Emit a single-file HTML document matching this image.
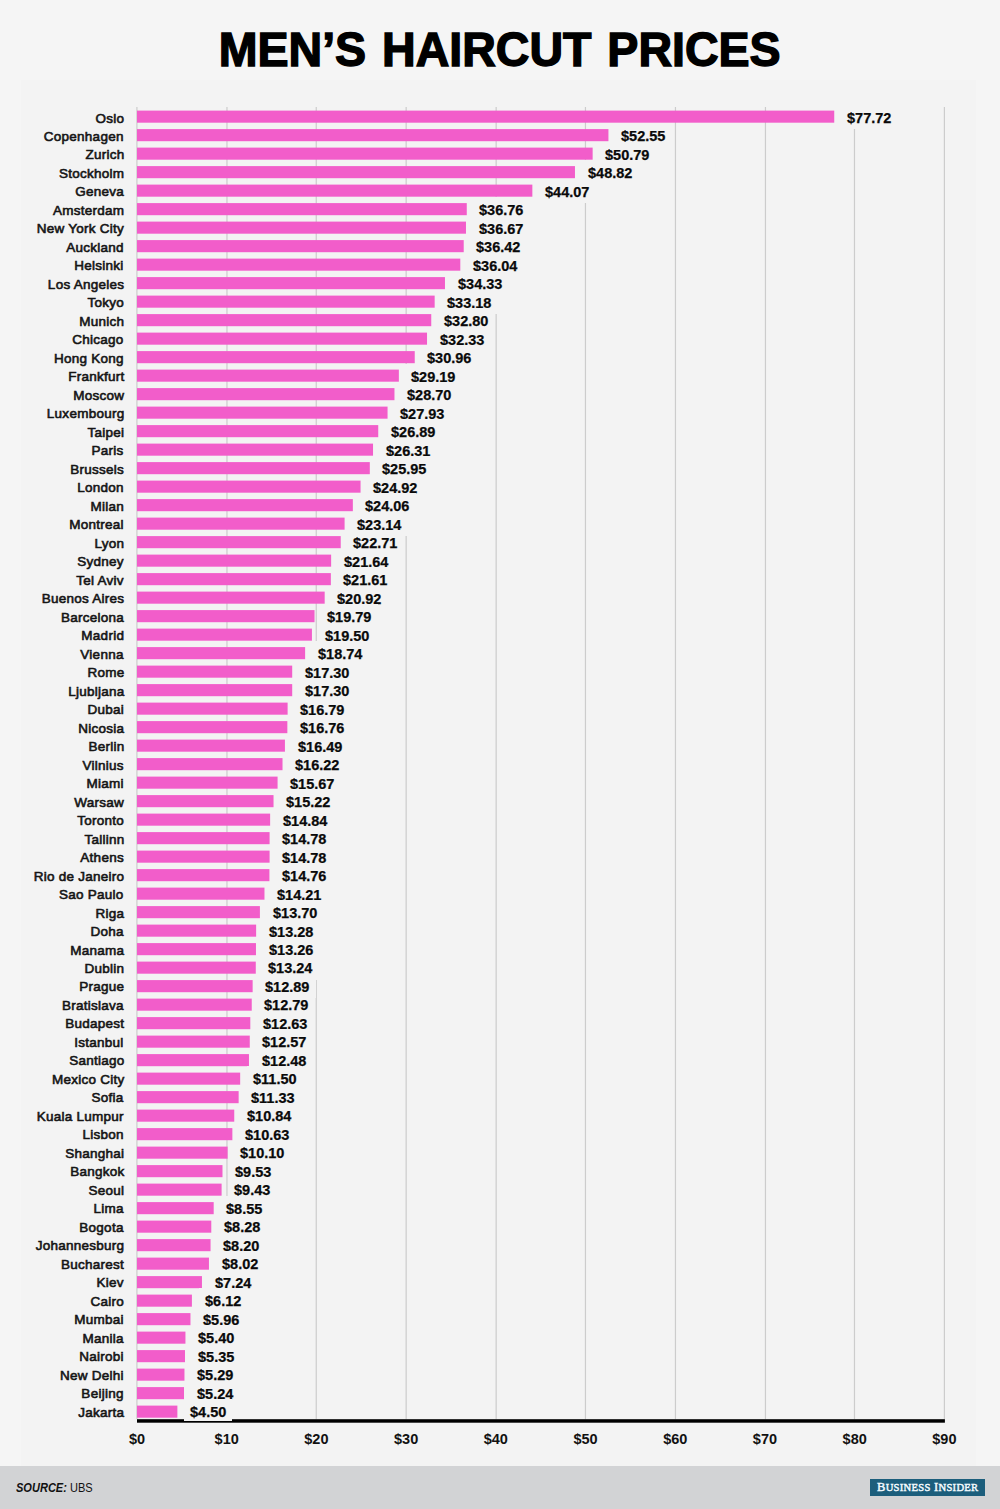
<!DOCTYPE html>
<html><head><meta charset="utf-8"><style>
*{margin:0;padding:0;box-sizing:border-box}
html,body{width:1000px;height:1509px;overflow:hidden;background:#f5f5f5}
body{position:relative;font-family:"Liberation Sans",sans-serif;color:#151515}
.a{position:absolute}
h1{position:absolute;left:0;width:1000px;top:26.3px;text-align:center;font-size:47.5px;font-weight:bold;color:#000;line-height:1;letter-spacing:0px;word-spacing:3px;white-space:nowrap}
h1 span{display:inline-block;transform:scaleX(0.98);transform-origin:center;-webkit-text-stroke:1.4px #000}
.g{position:absolute;top:107px;width:1px;height:1312.2px;background:#cccccc}
.b{position:absolute;left:137.0px;height:12.1px;background:#f25dca}
.c{position:absolute;right:876px;font-size:13.3px;font-weight:normal;-webkit-text-stroke:0.6px #151515;letter-spacing:0.25px;line-height:1;white-space:nowrap;text-align:right}
.c span,.v span{display:inline-block;transform:scaleX(1.015);transform-origin:right center}
.v span{transform-origin:left center;transform:scaleX(0.955)}
.v{position:absolute;font-size:15.2px;font-weight:bold;line-height:1;white-space:nowrap;color:#0a0a0a;-webkit-text-stroke:0.25px #0a0a0a;background:#f3f3f3;padding:5px 6px 4px 6px;overflow:visible}
.t{position:absolute;top:1432px;font-size:14.5px;font-weight:bold;line-height:1;width:60px;text-align:center;color:#111}
.t span{display:inline-block;transform:scaleX(1)}
.ax{position:absolute;left:137.0px;top:1419.2px;width:808.4px;height:3.5px;background:#000}
.ft{position:absolute;left:0;top:1466px;width:1000px;height:43px;background:#d2d3d5}
.src{position:absolute;left:16px;top:1482px;font-size:12px;line-height:1;color:#111;white-space:nowrap;transform:scaleX(0.92);transform-origin:left center}
.logo{position:absolute;left:870px;top:1478.5px;width:115px;height:17px;background:#1c5e7c;color:#f4fbff;font-family:"Liberation Serif",serif;font-weight:normal;-webkit-text-stroke:0.45px #f4fbff;text-align:center;white-space:nowrap;line-height:15.5px;font-size:13px;letter-spacing:0.3px}
.logo small{font-size:11px}
</style></head><body>
<div class="a" style="left:21px;top:80px;width:955px;height:1386px;background:#f3f3f3"></div>
<h1><span>MEN’S HAIRCUT PRICES</span></h1>
<svg class="a" style="left:0;top:0" width="1000" height="1509" viewBox="0 0 1000 1509"><rect x="136.30" y="107" width="1.2" height="1312.2" fill="#cccccc"/><rect x="226.36" y="107" width="1.2" height="1312.2" fill="#cccccc"/><rect x="315.64" y="107" width="1.2" height="1312.2" fill="#cccccc"/><rect x="405.56" y="107" width="1.2" height="1312.2" fill="#cccccc"/><rect x="495.56" y="107" width="1.2" height="1312.2" fill="#cccccc"/><rect x="584.84" y="107" width="1.2" height="1312.2" fill="#cccccc"/><rect x="674.84" y="107" width="1.2" height="1312.2" fill="#cccccc"/><rect x="764.84" y="107" width="1.2" height="1312.2" fill="#cccccc"/><rect x="853.88" y="107" width="1.2" height="1312.2" fill="#cccccc"/><rect x="943.80" y="107" width="1.2" height="1312.2" fill="#cccccc"/><rect x="137.0" y="110.60" width="697.23" height="12.1" fill="#f25dca"/><rect x="137.0" y="129.10" width="471.43" height="12.1" fill="#f25dca"/><rect x="137.0" y="147.60" width="455.64" height="12.1" fill="#f25dca"/><rect x="137.0" y="166.10" width="437.96" height="12.1" fill="#f25dca"/><rect x="137.0" y="184.60" width="395.35" height="12.1" fill="#f25dca"/><rect x="137.0" y="203.10" width="329.77" height="12.1" fill="#f25dca"/><rect x="137.0" y="221.60" width="328.97" height="12.1" fill="#f25dca"/><rect x="137.0" y="240.10" width="326.72" height="12.1" fill="#f25dca"/><rect x="137.0" y="258.60" width="323.31" height="12.1" fill="#f25dca"/><rect x="137.0" y="277.10" width="307.97" height="12.1" fill="#f25dca"/><rect x="137.0" y="295.60" width="297.66" height="12.1" fill="#f25dca"/><rect x="137.0" y="314.10" width="294.25" height="12.1" fill="#f25dca"/><rect x="137.0" y="332.60" width="290.03" height="12.1" fill="#f25dca"/><rect x="137.0" y="351.10" width="277.74" height="12.1" fill="#f25dca"/><rect x="137.0" y="369.60" width="261.86" height="12.1" fill="#f25dca"/><rect x="137.0" y="388.10" width="257.47" height="12.1" fill="#f25dca"/><rect x="137.0" y="406.60" width="250.56" height="12.1" fill="#f25dca"/><rect x="137.0" y="425.10" width="241.23" height="12.1" fill="#f25dca"/><rect x="137.0" y="443.60" width="236.03" height="12.1" fill="#f25dca"/><rect x="137.0" y="462.10" width="232.80" height="12.1" fill="#f25dca"/><rect x="137.0" y="480.60" width="223.56" height="12.1" fill="#f25dca"/><rect x="137.0" y="499.10" width="215.84" height="12.1" fill="#f25dca"/><rect x="137.0" y="517.60" width="207.59" height="12.1" fill="#f25dca"/><rect x="137.0" y="536.10" width="203.73" height="12.1" fill="#f25dca"/><rect x="137.0" y="554.60" width="194.13" height="12.1" fill="#f25dca"/><rect x="137.0" y="573.10" width="193.86" height="12.1" fill="#f25dca"/><rect x="137.0" y="591.60" width="187.67" height="12.1" fill="#f25dca"/><rect x="137.0" y="610.10" width="177.54" height="12.1" fill="#f25dca"/><rect x="137.0" y="628.60" width="174.93" height="12.1" fill="#f25dca"/><rect x="137.0" y="647.10" width="168.12" height="12.1" fill="#f25dca"/><rect x="137.0" y="665.60" width="155.20" height="12.1" fill="#f25dca"/><rect x="137.0" y="684.10" width="155.20" height="12.1" fill="#f25dca"/><rect x="137.0" y="702.60" width="150.62" height="12.1" fill="#f25dca"/><rect x="137.0" y="721.10" width="150.35" height="12.1" fill="#f25dca"/><rect x="137.0" y="739.60" width="147.93" height="12.1" fill="#f25dca"/><rect x="137.0" y="758.10" width="145.51" height="12.1" fill="#f25dca"/><rect x="137.0" y="776.60" width="140.58" height="12.1" fill="#f25dca"/><rect x="137.0" y="795.10" width="136.54" height="12.1" fill="#f25dca"/><rect x="137.0" y="813.60" width="133.13" height="12.1" fill="#f25dca"/><rect x="137.0" y="832.10" width="132.59" height="12.1" fill="#f25dca"/><rect x="137.0" y="850.60" width="132.59" height="12.1" fill="#f25dca"/><rect x="137.0" y="869.10" width="132.41" height="12.1" fill="#f25dca"/><rect x="137.0" y="887.60" width="127.48" height="12.1" fill="#f25dca"/><rect x="137.0" y="906.10" width="122.90" height="12.1" fill="#f25dca"/><rect x="137.0" y="924.60" width="119.13" height="12.1" fill="#f25dca"/><rect x="137.0" y="943.10" width="118.96" height="12.1" fill="#f25dca"/><rect x="137.0" y="961.60" width="118.78" height="12.1" fill="#f25dca"/><rect x="137.0" y="980.10" width="115.64" height="12.1" fill="#f25dca"/><rect x="137.0" y="998.60" width="114.74" height="12.1" fill="#f25dca"/><rect x="137.0" y="1017.10" width="113.30" height="12.1" fill="#f25dca"/><rect x="137.0" y="1035.60" width="112.77" height="12.1" fill="#f25dca"/><rect x="137.0" y="1054.10" width="111.96" height="12.1" fill="#f25dca"/><rect x="137.0" y="1072.60" width="103.17" height="12.1" fill="#f25dca"/><rect x="137.0" y="1091.10" width="101.64" height="12.1" fill="#f25dca"/><rect x="137.0" y="1109.60" width="97.25" height="12.1" fill="#f25dca"/><rect x="137.0" y="1128.10" width="95.36" height="12.1" fill="#f25dca"/><rect x="137.0" y="1146.60" width="90.61" height="12.1" fill="#f25dca"/><rect x="137.0" y="1165.10" width="85.49" height="12.1" fill="#f25dca"/><rect x="137.0" y="1183.60" width="84.60" height="12.1" fill="#f25dca"/><rect x="137.0" y="1202.10" width="76.70" height="12.1" fill="#f25dca"/><rect x="137.0" y="1220.60" width="74.28" height="12.1" fill="#f25dca"/><rect x="137.0" y="1239.10" width="73.56" height="12.1" fill="#f25dca"/><rect x="137.0" y="1257.60" width="71.95" height="12.1" fill="#f25dca"/><rect x="137.0" y="1276.10" width="64.95" height="12.1" fill="#f25dca"/><rect x="137.0" y="1294.60" width="54.90" height="12.1" fill="#f25dca"/><rect x="137.0" y="1313.10" width="53.47" height="12.1" fill="#f25dca"/><rect x="137.0" y="1331.60" width="48.44" height="12.1" fill="#f25dca"/><rect x="137.0" y="1350.10" width="47.99" height="12.1" fill="#f25dca"/><rect x="137.0" y="1368.60" width="47.46" height="12.1" fill="#f25dca"/><rect x="137.0" y="1387.10" width="47.01" height="12.1" fill="#f25dca"/><rect x="137.0" y="1405.60" width="40.37" height="12.1" fill="#f25dca"/><rect x="137.0" y="1419.2" width="807.90" height="3.5" fill="#000"/></svg>
<div class="c" style="top:111.50px"><span>Oslo</span></div>
<div class="v" style="top:105.00px;left:840.83px;width:56.39px"><span>$77.72</span></div>
<div class="c" style="top:129.99px"><span>Copenhagen</span></div>
<div class="v" style="top:123.49px;left:615.03px;width:56.39px"><span>$52.55</span></div>
<div class="c" style="top:148.48px"><span>Zurich</span></div>
<div class="v" style="top:141.98px;left:599.24px;width:56.39px"><span>$50.79</span></div>
<div class="c" style="top:166.97px"><span>Stockholm</span></div>
<div class="v" style="top:160.47px;left:581.56px;width:56.39px"><span>$48.82</span></div>
<div class="c" style="top:185.46px"><span>Geneva</span></div>
<div class="v" style="top:178.96px;left:538.95px;width:56.39px"><span>$44.07</span></div>
<div class="c" style="top:203.95px"><span>Amsterdam</span></div>
<div class="v" style="top:197.45px;left:473.37px;width:56.39px"><span>$36.76</span></div>
<div class="c" style="top:222.43px"><span>New York City</span></div>
<div class="v" style="top:215.93px;left:472.57px;width:56.39px"><span>$36.67</span></div>
<div class="c" style="top:240.92px"><span>Auckland</span></div>
<div class="v" style="top:234.42px;left:470.32px;width:56.39px"><span>$36.42</span></div>
<div class="c" style="top:259.41px"><span>Helsinki</span></div>
<div class="v" style="top:252.91px;left:466.91px;width:56.39px"><span>$36.04</span></div>
<div class="c" style="top:277.90px"><span>Los Angeles</span></div>
<div class="v" style="top:271.40px;left:451.57px;width:56.39px"><span>$34.33</span></div>
<div class="c" style="top:296.39px"><span>Tokyo</span></div>
<div class="v" style="top:289.89px;left:441.26px;width:56.39px"><span>$33.18</span></div>
<div class="c" style="top:314.88px"><span>Munich</span></div>
<div class="v" style="top:308.38px;left:437.85px;width:56.39px"><span>$32.80</span></div>
<div class="c" style="top:333.37px"><span>Chicago</span></div>
<div class="v" style="top:326.87px;left:433.63px;width:56.39px"><span>$32.33</span></div>
<div class="c" style="top:351.86px"><span>Hong Kong</span></div>
<div class="v" style="top:345.36px;left:421.34px;width:56.39px"><span>$30.96</span></div>
<div class="c" style="top:370.35px"><span>Frankfurt</span></div>
<div class="v" style="top:363.85px;left:405.46px;width:56.39px"><span>$29.19</span></div>
<div class="c" style="top:388.84px"><span>Moscow</span></div>
<div class="v" style="top:382.34px;left:401.07px;width:56.39px"><span>$28.70</span></div>
<div class="c" style="top:407.32px"><span>Luxembourg</span></div>
<div class="v" style="top:400.82px;left:394.16px;width:56.39px"><span>$27.93</span></div>
<div class="c" style="top:425.81px"><span>Taipei</span></div>
<div class="v" style="top:419.31px;left:384.83px;width:56.39px"><span>$26.89</span></div>
<div class="c" style="top:444.30px"><span>Paris</span></div>
<div class="v" style="top:437.80px;left:379.63px;width:56.39px"><span>$26.31</span></div>
<div class="c" style="top:462.79px"><span>Brussels</span></div>
<div class="v" style="top:456.29px;left:376.40px;width:56.39px"><span>$25.95</span></div>
<div class="c" style="top:481.28px"><span>London</span></div>
<div class="v" style="top:474.78px;left:367.16px;width:56.39px"><span>$24.92</span></div>
<div class="c" style="top:499.77px"><span>Milan</span></div>
<div class="v" style="top:493.27px;left:359.44px;width:56.39px"><span>$24.06</span></div>
<div class="c" style="top:518.26px"><span>Montreal</span></div>
<div class="v" style="top:511.76px;left:351.19px;width:56.39px"><span>$23.14</span></div>
<div class="c" style="top:536.75px"><span>Lyon</span></div>
<div class="v" style="top:530.25px;left:347.33px;width:56.39px"><span>$22.71</span></div>
<div class="c" style="top:555.24px"><span>Sydney</span></div>
<div class="v" style="top:548.74px;left:337.73px;width:56.39px"><span>$21.64</span></div>
<div class="c" style="top:573.73px"><span>Tel Aviv</span></div>
<div class="v" style="top:567.23px;left:337.46px;width:56.39px"><span>$21.61</span></div>
<div class="c" style="top:592.21px"><span>Buenos Aires</span></div>
<div class="v" style="top:585.71px;left:331.27px;width:56.39px"><span>$20.92</span></div>
<div class="c" style="top:610.70px"><span>Barcelona</span></div>
<div class="v" style="top:604.20px;left:321.14px;width:56.39px"><span>$19.79</span></div>
<div class="c" style="top:629.19px"><span>Madrid</span></div>
<div class="v" style="top:622.69px;left:318.53px;width:56.39px"><span>$19.50</span></div>
<div class="c" style="top:647.68px"><span>Vienna</span></div>
<div class="v" style="top:641.18px;left:311.72px;width:56.39px"><span>$18.74</span></div>
<div class="c" style="top:666.17px"><span>Rome</span></div>
<div class="v" style="top:659.67px;left:298.80px;width:56.39px"><span>$17.30</span></div>
<div class="c" style="top:684.66px"><span>Ljubljana</span></div>
<div class="v" style="top:678.16px;left:298.80px;width:56.39px"><span>$17.30</span></div>
<div class="c" style="top:703.15px"><span>Dubai</span></div>
<div class="v" style="top:696.65px;left:294.22px;width:56.39px"><span>$16.79</span></div>
<div class="c" style="top:721.64px"><span>Nicosia</span></div>
<div class="v" style="top:715.14px;left:293.95px;width:56.39px"><span>$16.76</span></div>
<div class="c" style="top:740.13px"><span>Berlin</span></div>
<div class="v" style="top:733.63px;left:291.53px;width:56.39px"><span>$16.49</span></div>
<div class="c" style="top:758.62px"><span>Vilnius</span></div>
<div class="v" style="top:752.12px;left:289.11px;width:56.39px"><span>$16.22</span></div>
<div class="c" style="top:777.10px"><span>Miami</span></div>
<div class="v" style="top:770.60px;left:284.18px;width:56.39px"><span>$15.67</span></div>
<div class="c" style="top:795.59px"><span>Warsaw</span></div>
<div class="v" style="top:789.09px;left:280.14px;width:56.39px"><span>$15.22</span></div>
<div class="c" style="top:814.08px"><span>Toronto</span></div>
<div class="v" style="top:807.58px;left:276.73px;width:56.39px"><span>$14.84</span></div>
<div class="c" style="top:832.57px"><span>Tallinn</span></div>
<div class="v" style="top:826.07px;left:276.19px;width:56.39px"><span>$14.78</span></div>
<div class="c" style="top:851.06px"><span>Athens</span></div>
<div class="v" style="top:844.56px;left:276.19px;width:56.39px"><span>$14.78</span></div>
<div class="c" style="top:869.55px"><span>Rio de Janeiro</span></div>
<div class="v" style="top:863.05px;left:276.01px;width:56.39px"><span>$14.76</span></div>
<div class="c" style="top:888.04px"><span>Sao Paulo</span></div>
<div class="v" style="top:881.54px;left:271.08px;width:56.39px"><span>$14.21</span></div>
<div class="c" style="top:906.53px"><span>Riga</span></div>
<div class="v" style="top:900.03px;left:266.50px;width:56.39px"><span>$13.70</span></div>
<div class="c" style="top:925.02px"><span>Doha</span></div>
<div class="v" style="top:918.52px;left:262.73px;width:56.39px"><span>$13.28</span></div>
<div class="c" style="top:943.50px"><span>Manama</span></div>
<div class="v" style="top:937.00px;left:262.56px;width:56.39px"><span>$13.26</span></div>
<div class="c" style="top:961.99px"><span>Dublin</span></div>
<div class="v" style="top:955.49px;left:262.38px;width:56.39px"><span>$13.24</span></div>
<div class="c" style="top:980.48px"><span>Prague</span></div>
<div class="v" style="top:973.98px;left:259.24px;width:56.39px"><span>$12.89</span></div>
<div class="c" style="top:998.97px"><span>Bratislava</span></div>
<div class="v" style="top:992.47px;left:258.34px;width:56.39px"><span>$12.79</span></div>
<div class="c" style="top:1017.46px"><span>Budapest</span></div>
<div class="v" style="top:1010.96px;left:256.90px;width:56.39px"><span>$12.63</span></div>
<div class="c" style="top:1035.95px"><span>Istanbul</span></div>
<div class="v" style="top:1029.45px;left:256.37px;width:56.39px"><span>$12.57</span></div>
<div class="c" style="top:1054.44px"><span>Santiago</span></div>
<div class="v" style="top:1047.94px;left:255.56px;width:56.39px"><span>$12.48</span></div>
<div class="c" style="top:1072.93px"><span>Mexico City</span></div>
<div class="v" style="top:1066.43px;left:246.77px;width:55.59px"><span>$11.50</span></div>
<div class="c" style="top:1091.42px"><span>Sofia</span></div>
<div class="v" style="top:1084.92px;left:245.24px;width:55.59px"><span>$11.33</span></div>
<div class="c" style="top:1109.91px"><span>Kuala Lumpur</span></div>
<div class="v" style="top:1103.41px;left:240.85px;width:56.39px"><span>$10.84</span></div>
<div class="c" style="top:1128.40px"><span>Lisbon</span></div>
<div class="v" style="top:1121.90px;left:238.96px;width:56.39px"><span>$10.63</span></div>
<div class="c" style="top:1146.88px"><span>Shanghai</span></div>
<div class="v" style="top:1140.38px;left:234.21px;width:56.39px"><span>$10.10</span></div>
<div class="c" style="top:1165.37px"><span>Bangkok</span></div>
<div class="v" style="top:1158.87px;left:229.09px;width:48.32px"><span>$9.53</span></div>
<div class="c" style="top:1183.86px"><span>Seoul</span></div>
<div class="v" style="top:1177.36px;left:228.20px;width:48.32px"><span>$9.43</span></div>
<div class="c" style="top:1202.35px"><span>Lima</span></div>
<div class="v" style="top:1195.85px;left:220.30px;width:48.32px"><span>$8.55</span></div>
<div class="c" style="top:1220.84px"><span>Bogota</span></div>
<div class="v" style="top:1214.34px;left:217.88px;width:48.32px"><span>$8.28</span></div>
<div class="c" style="top:1239.33px"><span>Johannesburg</span></div>
<div class="v" style="top:1232.83px;left:217.16px;width:48.32px"><span>$8.20</span></div>
<div class="c" style="top:1257.82px"><span>Bucharest</span></div>
<div class="v" style="top:1251.32px;left:215.55px;width:48.32px"><span>$8.02</span></div>
<div class="c" style="top:1276.31px"><span>Kiev</span></div>
<div class="v" style="top:1269.81px;left:208.55px;width:48.32px"><span>$7.24</span></div>
<div class="c" style="top:1294.80px"><span>Cairo</span></div>
<div class="v" style="top:1288.30px;left:198.50px;width:48.32px"><span>$6.12</span></div>
<div class="c" style="top:1313.29px"><span>Mumbai</span></div>
<div class="v" style="top:1306.79px;left:197.07px;width:48.32px"><span>$5.96</span></div>
<div class="c" style="top:1331.77px"><span>Manila</span></div>
<div class="v" style="top:1325.27px;left:192.04px;width:48.32px"><span>$5.40</span></div>
<div class="c" style="top:1350.26px"><span>Nairobi</span></div>
<div class="v" style="top:1343.76px;left:191.59px;width:48.32px"><span>$5.35</span></div>
<div class="c" style="top:1368.75px"><span>New Delhi</span></div>
<div class="v" style="top:1362.25px;left:191.06px;width:48.32px"><span>$5.29</span></div>
<div class="c" style="top:1387.24px"><span>Beijing</span></div>
<div class="v" style="top:1380.74px;left:190.61px;width:48.32px"><span>$5.24</span></div>
<div class="c" style="top:1405.73px"><span>Jakarta</span></div>
<div class="v" style="top:1399.23px;left:183.97px;padding-bottom:1.2px;width:48.32px"><span>$4.50</span></div>
<div class="t" style="left:107.00px"><span>$0</span></div>
<div class="t" style="left:196.71px"><span>$10</span></div>
<div class="t" style="left:286.42px"><span>$20</span></div>
<div class="t" style="left:376.13px"><span>$30</span></div>
<div class="t" style="left:465.84px"><span>$40</span></div>
<div class="t" style="left:555.55px"><span>$50</span></div>
<div class="t" style="left:645.26px"><span>$60</span></div>
<div class="t" style="left:734.97px"><span>$70</span></div>
<div class="t" style="left:824.68px"><span>$80</span></div>
<div class="t" style="left:914.39px"><span>$90</span></div>
<div class="ft"></div>
<div class="src"><b><i>SOURCE:</i></b> UBS</div>
<div class="logo"><span style="display:inline-block;transform:scaleX(0.962)">B<small>USINESS</small> I<small>NSIDER</small></span></div>
</body></html>
